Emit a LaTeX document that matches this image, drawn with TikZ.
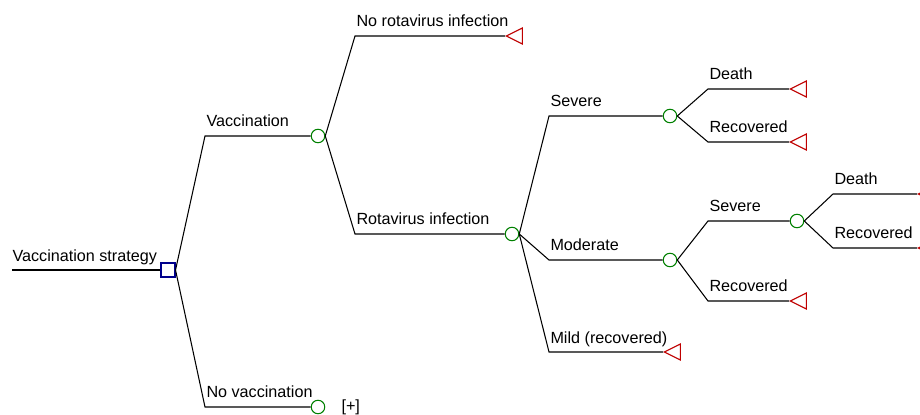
\documentclass[tikz,border=0pt]{standalone}
\usepackage{fontspec}
\setmainfont{Liberation Sans}
\usetikzlibrary{shapes.geometric}

\begin{document}
\begin{tikzpicture}[x=0.02cm, y=-0.02cm, line width=0.6pt,
    decision/.style={draw=blue!55!black, rectangle, minimum size=0.28cm, inner sep=0pt},
    chance/.style={draw=green!50!black, circle, minimum size=0.27cm, inner sep=0pt},
    terminal/.style={draw=red!75!black, isosceles triangle, isosceles triangle stretches,
        shape border rotate=180, minimum height=0.32cm, minimum width=0.32cm, inner sep=0pt, anchor=apex},
    lbl/.style={anchor=base west, inner sep=0pt, font=\fontsize{9.2}{11}\selectfont}]
    \useasboundingbox (0,0) rectangle (920,415);

    % nodes
    \coordinate (start) at (12,270);
    \node[decision] (dec) at (168,270) {};
    \node[chance] (cVac) at (318,136) {};
    \node[chance] (cNoVac) at (318,407) {};
    \node[chance] (cRota) at (512,234) {};
    \node[chance] (cSev) at (670,116) {};
    \node[chance] (cMod) at (670,260) {};
    \node[chance] (cModSev) at (797,221) {};
    \node[terminal] (tNoRota) at (505,36) {};
    \node[terminal] (tSevDeath) at (789,89) {};
    \node[terminal] (tSevRec) at (789,142) {};
    \node[terminal] (tModRec) at (789,301) {};
    \node[terminal] (tMild) at (663,352) {};
    \node[terminal] (tMSDeath) at (917,194) {};
    \node[terminal] (tMSRec) at (917,248) {};

    % bends
    \coordinate (vacB) at (205,136);
    \coordinate (noVacB) at (205,407);
    \coordinate (noRotaB) at (355,36);
    \coordinate (rotaB) at (355,234);
    \coordinate (sevB) at (549,116);
    \coordinate (modB) at (549,260);
    \coordinate (mildB) at (549,352);
    \coordinate (sdB) at (708,89);
    \coordinate (srB) at (708,142);
    \coordinate (msB) at (708,221);
    \coordinate (mrB) at (708,301);
    \coordinate (msdB) at (833,194);
    \coordinate (msrB) at (833,248);

    % branches
    \draw (start) -- (dec.west);
    \draw (dec.east) -- (vacB) -- (cVac.west);
    \draw (dec.east) -- (noVacB) -- (cNoVac.west);
    \draw (cVac.east) -- (noRotaB) -- (tNoRota.apex);
    \draw (cVac.east) -- (rotaB) -- (cRota.west);
    \draw (cRota.east) -- (sevB) -- (cSev.west);
    \draw (cRota.east) -- (modB) -- (cMod.west);
    \draw (cRota.east) -- (mildB) -- (tMild.apex);
    \draw (cSev.east) -- (sdB) -- (tSevDeath.apex);
    \draw (cSev.east) -- (srB) -- (tSevRec.apex);
    \draw (cMod.east) -- (msB) -- (cModSev.west);
    \draw (cMod.east) -- (mrB) -- (tModRec.apex);
    \draw (cModSev.east) -- (msdB) -- (tMSDeath.apex);
    \draw (cModSev.east) -- (msrB) -- (tMSRec.apex);

    % labels
    \node[lbl] (lStrat) at ([shift={(0,-8)}]start) {Vaccination strategy};
    \node[lbl] (lVac) at ([shift={(1,-9)}]vacB) {Vaccination};
    \node[lbl] (lNoVac) at ([shift={(1,-9)}]noVacB) {No vaccination};
    \node[lbl] (lPlus) at (341,411) {[+]};
    \node[lbl] (lNoRota) at ([shift={(1,-9)}]noRotaB) {No rotavirus infection};
    \node[lbl] (lRota) at ([shift={(1,-9)}]rotaB) {Rotavirus infection};
    \node[lbl] (lSev) at ([shift={(1,-9)}]sevB) {Severe};
    \node[lbl] (lMod) at ([shift={(1,-9)}]modB) {Moderate};
    \node[lbl] (lMild) at ([shift={(1,-9)}]mildB) {Mild (recovered)};
    \node[lbl] (lSD) at ([shift={(1,-9)}]sdB) {Death};
    \node[lbl] (lSR) at ([shift={(1,-9)}]srB) {Recovered};
    \node[lbl] (lMS) at ([shift={(1,-9)}]msB) {Severe};
    \node[lbl] (lMR) at ([shift={(1,-9)}]mrB) {Recovered};
    \node[lbl] (lMSD) at ([shift={(1,-9)}]msdB) {Death};
    \node[lbl] (lMSR) at ([shift={(1,-9)}]msrB) {Recovered};
\end{tikzpicture}
\end{document}
